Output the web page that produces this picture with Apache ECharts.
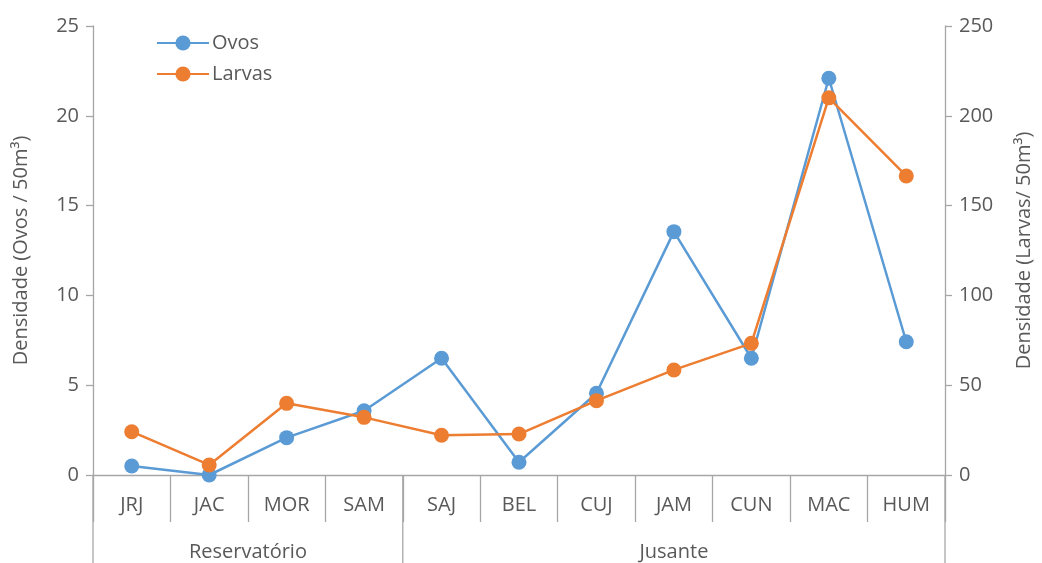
<!DOCTYPE html>
<html>
<head>
<meta charset="utf-8">
<script src="https://cdn.jsdelivr.net/npm/echarts@6/dist/echarts.min.js"></script>
<style>html,body{margin:0;padding:0;background:#fff}#c{width:1042px;height:563px}</style>
</head>
<body>
<div id="c"></div>
<script>
const categories = ['JRJ','JAC','MOR','SAM','SAJ','BEL','CUJ','JAM','CUN','MAC','HUM'];
const groups = [
  {name: 'Reservatório', from: 0, to: 3},
  {name: 'Jusante', from: 4, to: 10}
];
const ovos = [0.5, 0, 2.08, 3.58, 6.5, 0.71, 4.55, 13.55, 6.5, 22.09, 7.42];
const larvas = [24.1, 5.6, 39.9, 32.1, 22.1, 22.8, 41.4, 58.5, 73.3, 210, 166.5];
const leftTicks = {min: 0, max: 25, interval: 5};
const rightTicks = {min: 0, max: 250, interval: 50};

const FONT = 'Open Sans';
const FS = 20;
const TXT = '#595959';
const AX = '#a6a6a6';

const chart = echarts.init(document.getElementById('c'));
const option = {
  animation: false,
  textStyle: {fontFamily: FONT},
  grid: {left: 93, right: 97, top: 26, bottom: 88, containLabel: false, outerBoundsMode: 'none'},
  legend: {
    orient: 'vertical', left: 151, top: 28, itemGap: 11,
    itemWidth: 52, itemHeight: 19,
    textStyle: {fontFamily: FONT, fontSize: FS, color: TXT, padding: [0, 0, 0, -2]},
    data: ['Ovos', 'Larvas']
  },
  xAxis: {
    type: 'category', data: categories, boundaryGap: true,
    axisLine: {lineStyle: {color: AX, width: 1.3}},
    axisTick: {show: true, interval: 0, length: 47, lineStyle: {color: AX, width: 1.3}},
    axisLabel: {interval: 0, margin: 20, fontSize: FS, color: TXT, fontFamily: FONT}
  },
  yAxis: [
    {
      type: 'value', position: 'left', min: leftTicks.min, max: leftTicks.max, interval: leftTicks.interval,
      name: 'Densidade (Ovos / 50m³)', nameLocation: 'middle', nameGap: 62, nameRotate: 90,
      nameTextStyle: {fontSize: FS, color: TXT, fontFamily: FONT},
      axisLine: {show: true, lineStyle: {color: AX, width: 1.3}},
      axisTick: {show: true, length: 7, lineStyle: {color: AX, width: 1.3}},
      axisLabel: {margin: 14, fontSize: FS, color: TXT, fontFamily: FONT},
      splitLine: {show: false}
    },
    {
      type: 'value', position: 'right', min: rightTicks.min, max: rightTicks.max, interval: rightTicks.interval,
      name: 'Densidade (Larvas/ 50m³)', nameLocation: 'middle', nameGap: 69, nameRotate: 90,
      nameTextStyle: {fontSize: FS, color: TXT, fontFamily: FONT},
      axisLine: {show: true, lineStyle: {color: AX, width: 1.3}},
      axisTick: {show: true, length: 7, lineStyle: {color: AX, width: 1.3}},
      axisLabel: {margin: 14, fontSize: FS, color: TXT, fontFamily: FONT},
      splitLine: {show: false}
    }
  ],
  series: [
    {
      name: 'Ovos', type: 'line', yAxisIndex: 0, data: ovos,
      symbol: 'circle', symbolSize: 15, z: 2,
      lineStyle: {color: '#5b9bd5', width: 2.5},
      itemStyle: {color: '#5b9bd5'}
    },
    {
      name: 'Larvas', type: 'line', yAxisIndex: 1, data: larvas,
      symbol: 'circle', symbolSize: 15, z: 3,
      lineStyle: {color: '#ed7d31', width: 2.5},
      itemStyle: {color: '#ed7d31'}
    }
  ]
};
chart.setOption(option);

// Group labels and separator lines derived from the category axis scale
const c0 = chart.convertToPixel({xAxisIndex: 0}, categories[0]);
const c1 = chart.convertToPixel({xAxisIndex: 0}, categories[1]);
const step = c1 - c0;
const y0 = chart.convertToPixel({yAxisIndex: 0}, 0);
const H = 563;
const graphics = [];
const bounds = new Set();
groups.forEach(g => {
  const xa = chart.convertToPixel({xAxisIndex: 0}, categories[g.from]) - step / 2;
  const xb = chart.convertToPixel({xAxisIndex: 0}, categories[g.to]) + step / 2;
  bounds.add(Math.round(xa * 10) / 10);
  bounds.add(Math.round(xb * 10) / 10);
  graphics.push({
    type: 'text', x: (xa + xb) / 2, y: y0 + 77,
    style: {text: g.name, fill: TXT, font: FS + 'px "' + FONT + '"', textAlign: 'center', textVerticalAlign: 'middle'}
  });
});
bounds.forEach(x => {
  graphics.push({
    type: 'line', shape: {x1: x, y1: y0, x2: x, y2: H},
    style: {stroke: AX, lineWidth: 1.3}
  });
});
chart.setOption({graphic: graphics});
</script>
</body>
</html>
